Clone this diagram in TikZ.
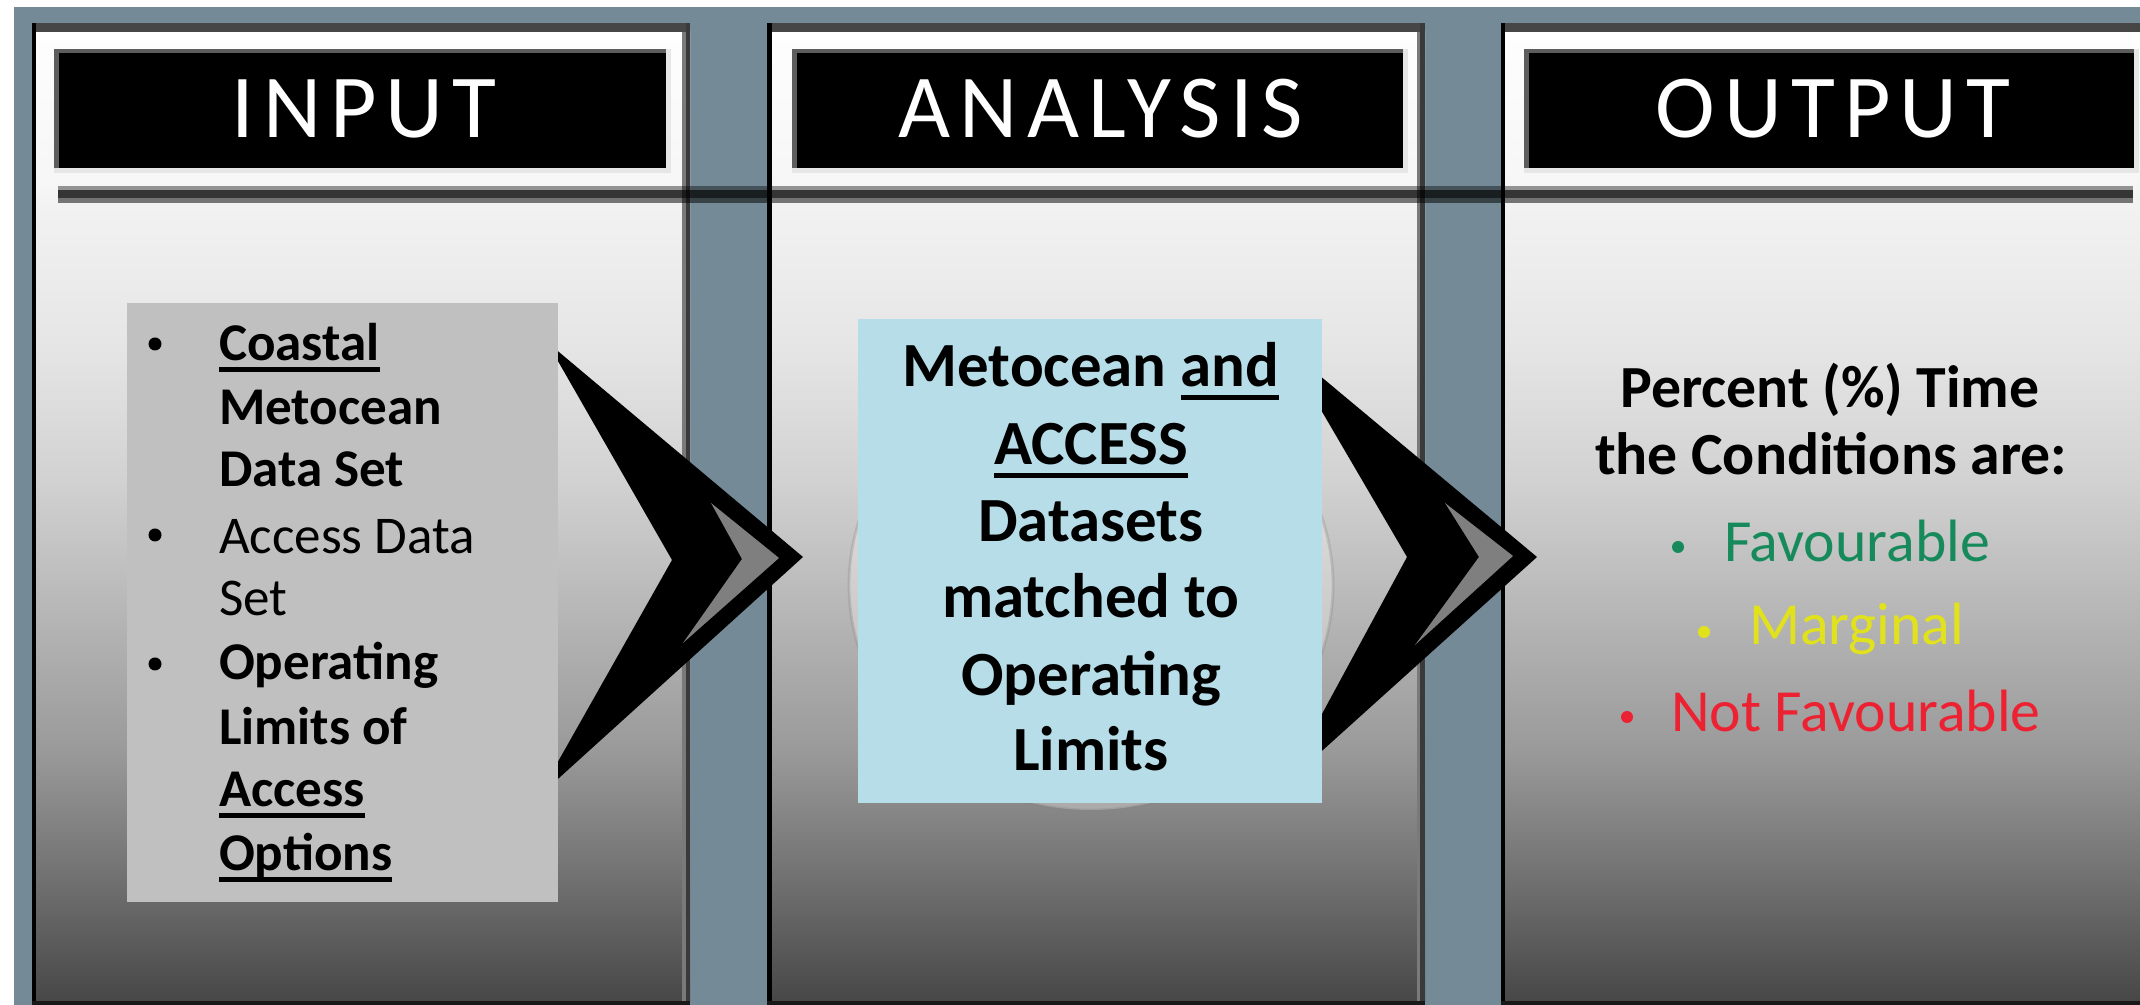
\documentclass[tikz,border=0pt]{standalone}
\usepackage{fontspec}
\setmainfont{Carlito}
\newfontfamily\headfont[LetterSpace=10]{Carlito}

% palette
\definecolor{slate}{HTML}{748A96}
\definecolor{bandgrey}{HTML}{464646}
\definecolor{edgegrey}{HTML}{7A7A7A}
\definecolor{edgedark}{HTML}{3A3A3A}
\definecolor{barrim}{HTML}{5D5D5D}
\definecolor{barshadow}{HTML}{E6E6E6}
\definecolor{inputgrey}{HTML}{C0C0C0}
\definecolor{analysisblue}{HTML}{B7DEE8}
\definecolor{chevgrey}{HTML}{7F7F7F}
\definecolor{goodgreen}{HTML}{178A5C}
\definecolor{marginyellow}{HTML}{E2E21C}
\definecolor{badred}{HTML}{EC2232}

% panel background: light at the top, dark grey at the bottom
\definecolor{pf0}{HTML}{FEFEFE}
\definecolor{pf1}{HTML}{F6F6F6}
\definecolor{pf2}{HTML}{F2F2F2}
\definecolor{pf3}{HTML}{E6E6E6}
\definecolor{pf4}{HTML}{D2D2D2}
\definecolor{pf5}{HTML}{B6B6B6}
\definecolor{pf6}{HTML}{9A9A9A}
\definecolor{pf7}{HTML}{6E6E6E}
\definecolor{pf8}{HTML}{474747}
\pgfdeclareverticalshading{panelfade}{100bp}{color(0bp)=(pf8); color(25bp)=(pf8);
  color(30.93bp)=(pf7); color(37.99bp)=(pf6); color(45bp)=(pf5); color(52.01bp)=(pf4);
  color(59.07bp)=(pf3); color(66.08bp)=(pf2); color(67.06bp)=(pf1); color(75bp)=(pf0);
  color(100bp)=(pf0)}

% word with a heavy underline
\newsavebox\ulbox
\newcommand\ulword[1]{\sbox\ulbox{#1}\rlap{\rule[-0.21em]{\wd\ulbox}{0.09em}}\usebox\ulbox}

\begin{document}
\begin{tikzpicture}[x=0.1mm,y=-0.1mm,
  every node/.style={inner sep=0pt,outer sep=0pt},
  headtext/.style={text=white,font=\headfont\fontsize{25.6}{30}\selectfont},
  inreg/.style={anchor=base west,font=\fontsize{15.1}{17}\selectfont},
  inbold/.style={anchor=base west,font=\fontsize{15.1}{17}\selectfont\bfseries},
  midtext/.style={anchor=base,font=\fontsize{17.9}{20}\selectfont\bfseries},
  outbold/.style={anchor=base,font=\fontsize{17.0}{20}\selectfont\bfseries},
  outitem/.style={anchor=base west,font=\fontsize{17.0}{20}\selectfont},
  panelshade/.style={shading=panelfade},
  chevron/.style={fill=black},
  chevlight/.style={fill=chevgrey}
]
% canvas and backdrop
\fill[white] (0,0) rectangle (2140,1005);
\useasboundingbox (0,0) rectangle (2140,1005);
\fill[slate] (14,7) rectangle (2140,1005);

% three column panels
\shade[panelshade] (32,32) rectangle (690,1002);
\shade[panelshade] (767,32) rectangle (1425,1002);
\shade[panelshade] (1501,32) rectangle (2140,1002);
\fill[bandgrey] (32,23) rectangle (690,32);
\fill[bandgrey] (767,23) rectangle (1425,32);
\fill[bandgrey] (1501,23) rectangle (2140,32);
\fill[black] (32,23) rectangle (36,1002);
\fill[black] (767,23) rectangle (772,1002);
\fill[black] (1501,23) rectangle (1505,1002);
\fill[edgegrey] (682,32) rectangle (686,1002);
\fill[edgedark] (686,23) rectangle (690,1002);
\fill[edgegrey] (1417,32) rectangle (1420,1002);
\fill[edgedark] (1420,23) rectangle (1425,1002);
\fill[black!90] (32,1001) rectangle (690,1005);
\fill[black!90] (767,1001) rectangle (1425,1005);
\fill[black!90] (1501,1001) rectangle (2140,1005);

% heading bars
\foreach \xl/\xr in {54/666, 792/1403, 1524/2134}{
  \fill[barshadow] (\xl,49) rectangle (\xr+5,173);
  \fill[barrim] (\xl,49) rectangle (\xr,168);
  \fill[black] (\xl+5,53) rectangle (\xr,168);
}
\node[headtext] (hin) at (364,108.5) {INPUT};
\node[headtext] (han) at (1101,108.5) {ANALYSIS};
\node[headtext] (hout) at (1833,108.5) {OUTPUT};

% divider rule across all panels
\fill[black,opacity=0.40] (58,186) rectangle (2133,190);
\fill[black,opacity=0.78] (58,190) rectangle (2133,198);
\fill[black,opacity=0.52] (58,198) rectangle (2133,203);

% soft disc behind the analysis box
\fill[white,opacity=0.3] (1091,585) ellipse [x radius=242,y radius=225];
\draw[black!50,opacity=0.28,line width=0.8pt] (1091,585) ellipse [x radius=242,y radius=225];

% chevrons
\fill[chevron] (547,342) -- (803,557) -- (538,797) -- (672,560) -- cycle;
\fill[chevlight] (711,503) -- (779,558) -- (683,643) -- (742,559) -- cycle;
\fill[chevron] (1283,345) -- (1537,557) -- (1283,786) -- (1407,557) -- cycle;
\fill[chevlight] (1445,503) -- (1513,556) -- (1415,645) -- (1479,557) -- cycle;

% input list
\node[fill=inputgrey,minimum width=43.1mm,minimum height=59.9mm] (inbox) at (342.5,602.5) {};
\fill (155,344) circle [radius=6.5];
\fill (155,535) circle [radius=6.5];
\fill (155,664) circle [radius=6.5];
\node[inbold] (in1) at (219,361) {\ulword{Coastal}};
\node[inbold] (in2) at (219,425) {Metocean};
\node[inbold] (in3) at (219,487) {Data Set};
\node[inreg]  (in4) at (219,554) {Access Data};
\node[inreg]  (in5) at (219,616) {Set};
\node[inbold] (in6) at (219,680) {Operating};
\node[inbold] (in7) at (219,745) {Limits of};
\node[inbold] (in8) at (219,807) {\ulword{Access}};
\node[inbold] (in9) at (219,871) {\ulword{Options}};

% analysis box
\node[fill=analysisblue,minimum width=46.4mm,minimum height=48.4mm] (anbox) at (1090,561) {};
\node[midtext] (an1) at (1091,387) {Metocean \ulword{and}};
\node[midtext] (an2) at (1091,465) {\ulword{ACCESS}};
\node[midtext] (an3) at (1091,542) {Datasets};
\node[midtext] (an4) at (1091,618) {matched to};
\node[midtext] (an5) at (1091,696) {Operating};
\node[midtext] (an6) at (1091,771) {Limits};

% output summary
\node[outbold] (out1) at (1830,408) {Percent (\%) Time};
\node[outbold] (out2) at (1831,475) {the Conditions are:};
\fill[goodgreen] (1678,547) circle [radius=6];
\node[outitem,text=goodgreen] (out3) at (1724,562) {Favourable};
\fill[marginyellow] (1704,632) circle [radius=6];
\node[outitem,text=marginyellow] (out4) at (1749,645) {Marginal};
\fill[badred] (1627,717) circle [radius=6];
\node[outitem,text=badred] (out5) at (1671,732) {Not Favourable};
\end{tikzpicture}
\end{document}
